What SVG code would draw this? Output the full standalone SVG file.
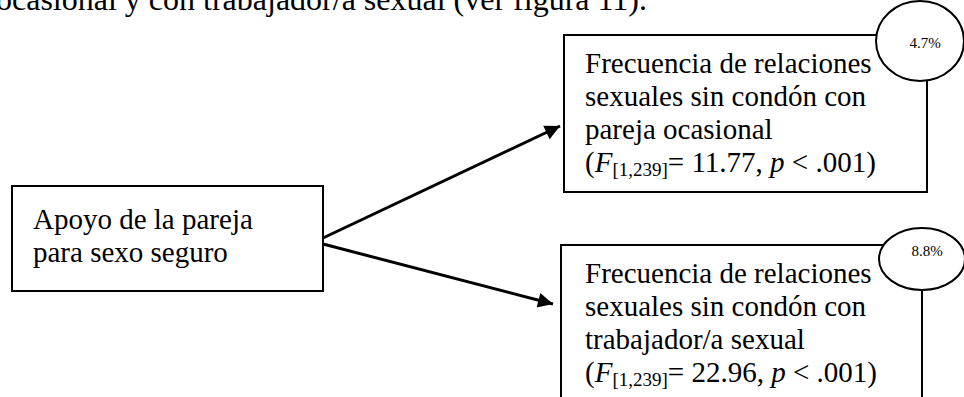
<svg xmlns="http://www.w3.org/2000/svg" width="964" height="397" viewBox="0 0 964 397">
<defs>
<style>
text{font-family:'Liberation Serif','DejaVu Serif',serif;fill:#000}
.t{font-size:29px}
.s{font-size:19px}
.pc{font-size:15px}
.box{fill:#fff;stroke:#000;stroke-width:2}
.ell{fill:#fff;stroke:#000;stroke-width:2}
.con{stroke:#000;stroke-width:3;fill:none}
</style>
<marker id="ah" viewBox="0 0 10 10" refX="10" refY="5" markerWidth="7" markerHeight="5" markerUnits="strokeWidth" orient="auto">
<path d="M0,0 L10,5 L0,10 z" fill="#000"/>
</marker>
</defs>
<rect width="964" height="397" fill="#fff"/>
<text x="-4" y="10" font-size="32">ocasional y con trabajador/a sexual (ver figura 11).</text>
<g id="connectors">
<line class="con" x1="323" y1="238" x2="560" y2="126" marker-end="url(#ah)"/>
<line class="con" x1="323" y1="244" x2="553" y2="304" marker-end="url(#ah)"/>
</g>
<g id="node-apoyo">
<rect class="box" x="12" y="186" width="311" height="105"/>
<text class="t" x="33" y="229">Apoyo de la pareja</text>
<text class="t" x="33" y="262">para sexo seguro</text>
</g>
<g id="node-ocasional">
<rect class="box" x="564" y="35" width="363" height="157"/>
<text class="t" x="585" y="73">Frecuencia de relaciones</text>
<text class="t" x="585" y="106">sexuales sin condón con</text>
<text class="t" x="585" y="139">pareja ocasional</text>
<text class="t" x="585" y="172">(<tspan font-style="italic">F</tspan><tspan class="s" dy="4">[1,239]</tspan><tspan dy="-4">= 11.77, </tspan><tspan font-style="italic">p</tspan> &lt; .001)</text>
</g>
<g id="pct-ocasional">
<ellipse class="ell" cx="920" cy="41" rx="44" ry="40"/>
<text class="pc" x="925" y="48" text-anchor="middle">4.7%</text>
</g>
<g id="node-trabajador">
<rect class="box" x="561" y="245" width="361" height="170"/>
<text class="t" x="585" y="283">Frecuencia de relaciones</text>
<text class="t" x="585" y="316">sexuales sin condón con</text>
<text class="t" x="585" y="349">trabajador/a sexual</text>
<text class="t" x="585" y="382">(<tspan font-style="italic">F</tspan><tspan class="s" dy="4">[1,239]</tspan><tspan dy="-4">= 22.96, </tspan><tspan font-style="italic">p</tspan> &lt; .001)</text>
</g>
<g id="pct-trabajador">
<ellipse class="ell" cx="922" cy="259" rx="43" ry="31"/>
<text class="pc" x="927" y="256" text-anchor="middle">8.8%</text>
</g>
</svg>
